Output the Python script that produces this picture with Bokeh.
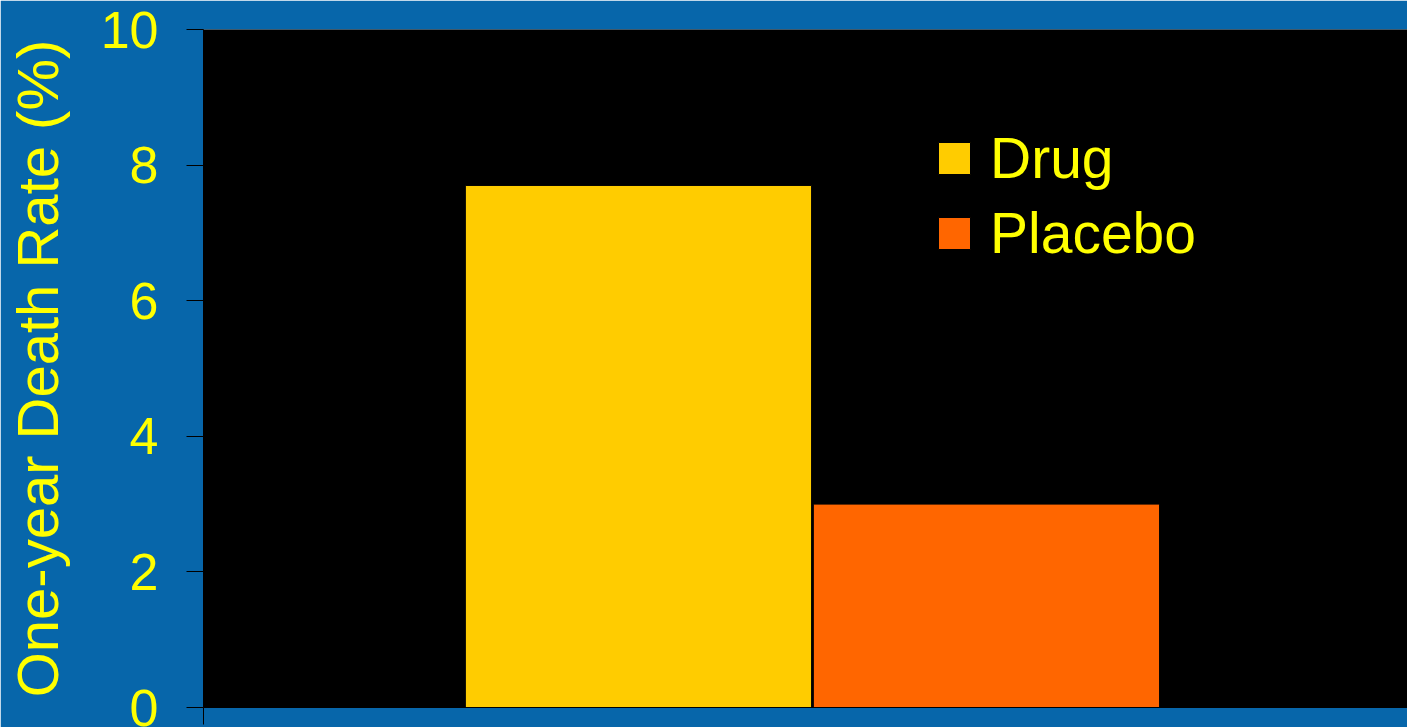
from bokeh.plotting import figure
from bokeh.models import ColumnDataSource, Range1d, FixedTicker
from bokeh.embed import file_html
from bokeh.resources import INLINE

groups = ["Drug", "Placebo"]
rates = [7.7, 3.0]
colors = ["#FFCC00", "#FF6600"]
y_ticks = [0, 2, 4, 6, 8, 10]
y_title = "One-year Death Rate (%)"

FONT = "Liberation Sans"
YELLOW = "#FFFF00"
BLUE = "#0766AA"

src = ColumnDataSource(dict(x=list(range(len(groups))), top=rates, group=groups, color=colors))

p = figure(width=1407, height=727, output_backend="svg", toolbar_location=None,
           x_range=Range1d(-1.25, 2.21), y_range=Range1d(0, 10),
           min_border_left=203, min_border_right=0, min_border_top=29, min_border_bottom=20)
p.background_fill_color = "black"
p.border_fill_color = BLUE
p.outline_line_color = None
p.grid.visible = False

p.vbar(x="x", top="top", width=0.995, fill_color="color", line_color="black", line_width=1,
       source=src, legend_field="group")

ya = p.yaxis[0]
ya.ticker = FixedTicker(ticks=y_ticks)
ya.axis_line_color = "black"
ya.major_tick_line_color = "black"
ya.major_tick_out = 17
ya.major_tick_in = 0
ya.minor_tick_out = 0
ya.minor_tick_in = 0
ya.major_label_text_color = YELLOW
ya.major_label_text_font = FONT
ya.major_label_text_font_size = "52px"
ya.major_label_standoff = 28
ya.axis_label = y_title
ya.axis_label_text_color = YELLOW
ya.axis_label_text_font = FONT
ya.axis_label_text_font_size = "58px"
ya.axis_label_text_font_style = "normal"
ya.axis_label_standoff = 28

xa = p.xaxis[0]
xa.ticker = FixedTicker(ticks=[-1.25])
xa.axis_line_color = "black"
xa.major_tick_line_color = "black"
xa.major_tick_out = 17
xa.major_tick_in = 0
xa.minor_tick_out = 0
xa.major_label_text_font_size = "0px"
xa.major_label_text_alpha = 0

lg = p.legend[0]
lg.location = (731, 441)
lg.background_fill_alpha = 0
lg.border_line_color = None
lg.padding = 0
lg.margin = 0
lg.glyph_width = 40
lg.glyph_height = 40
lg.label_standoff = 16
lg.label_text_font = FONT
lg.label_text_font_size = "57px"
lg.label_text_color = YELLOW
lg.label_height = 32
lg.spacing = 9

open("out.html", "w").write(file_html(p, INLINE))
